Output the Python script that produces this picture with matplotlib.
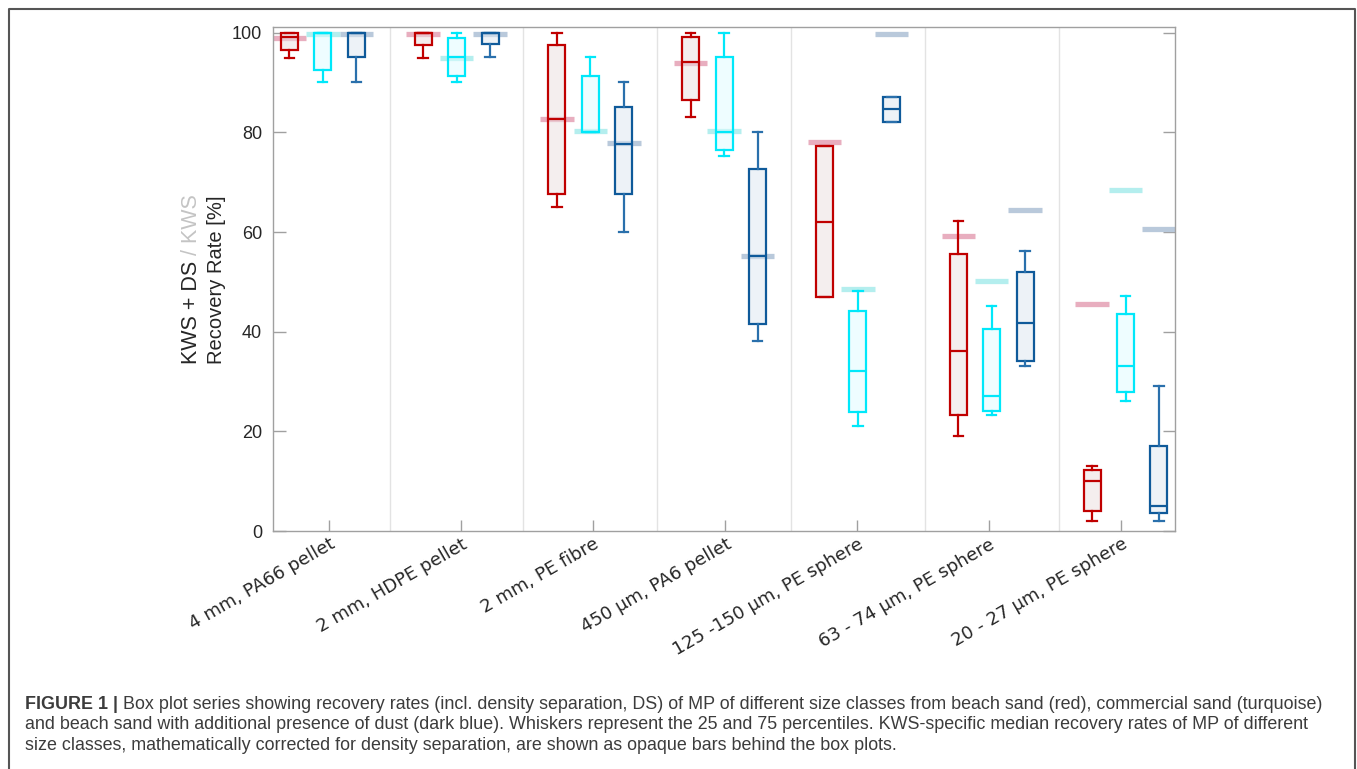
import matplotlib
matplotlib.use('Agg')
import matplotlib.pyplot as plt
from matplotlib.lines import Line2D
import numpy as np

# --- data ---------------------------------------------------------------
categories = ['4 mm, PA66 pellet', '2 mm, HDPE pellet', '2 mm, PE fibre',
              '450 µm, PA6 pellet', '125 -150 µm, PE sphere',
              '63 - 74 µm, PE sphere', '20 - 27 µm, PE sphere']

# beach sand (red)
red_lo  = [95, 95, 65, 83, 47, 19, 2]
red_q1  = [96.5, 97.6, 67.6, 86.6, 47, 23.3, 4]
red_med = [99.2, 100, 82.6, 94.1, 62.1, 36.1, 10.1]
red_q3  = [100, 100, 97.6, 99.2, 77.2, 55.6, 12.2]
red_hi  = [100, 100, 100, 100, 77.2, 62.2, 13.1]
red_kws = [99.0, 99.8, 82.7, 94.0, 78.0, 59.2, 45.6]

# commercial sand (turquoise)
cyan_lo  = [90.2, 90.2, 80.1, 75.2, 21.1, 23.2, 26.1]
cyan_q1  = [92.6, 91.4, 80.1, 76.4, 23.8, 24.1, 27.9]
cyan_med = [100, 95.2, 80.1, 80.1, 32.1, 27.1, 33.1]
cyan_q3  = [100, 99.0, 91.4, 95.2, 44.1, 40.6, 43.6]
cyan_hi  = [100, 100, 95.2, 100, 48.1, 45.1, 47.2]
cyan_kws = [99.8, 95.0, 80.3, 80.3, 48.6, 50.1, 68.4]

# beach sand + dust (dark blue)
blue_lo  = [90.2, 95.2, 60.1, 38.2, 82.1, 33.1, 2.1]
blue_q1  = [95.1, 97.7, 67.7, 41.6, 82.1, 34.1, 3.6]
blue_med = [100, 100, 77.7, 55.2, 84.7, 41.7, 5.0]
blue_q3  = [100, 100, 85.1, 72.7, 87.1, 52.0, 17.1]
blue_hi  = [100, 100, 90.2, 80.1, 87.1, 56.2, 29.1]
blue_kws = [99.8, 99.8, 77.9, 55.2, 99.7, 64.4, 60.6]

W, H = 1357, 769
fig = plt.figure(figsize=(W / 100, H / 100), dpi=100)


def fx(px):
    return px / W


def fy(py):
    return 1 - py / H


ax = fig.add_axes([fx(273.3), fy(531), fx(1175) - fx(273.3), fy(27.3) - fy(531)])

series = [
    (red_lo, red_q1, red_med, red_q3, red_hi, red_kws, -0.25,
     '#C00000', '#C00000', (0.92, 0.874, 0.874), '#E8AEBF'),
    (cyan_lo, cyan_q1, cyan_med, cyan_q3, cyan_hi, cyan_kws, 0.0,
     '#00E8FA', '#00E8FA', (0.874, 0.992, 1.0), '#B4EEEE'),
    (blue_lo, blue_q1, blue_med, blue_q3, blue_hi, blue_kws, 0.25,
     '#0F5A9A', '#2A70AC', (0.866, 0.906, 0.946), '#B9C9DB'),
]

centers = np.arange(1, len(categories) + 1)
box_w = 0.127

for lo, q1, med, q3, hi, kws, off, edge, wcol, fill, barcol in series:
    pos = centers + off
    # KWS medians: opaque bars behind the boxes
    ax.hlines(kws, pos - 0.125, pos + 0.125, colors=barcol, lw=3.8, zorder=2)
    stats = [dict(whislo=a, q1=b, med=c, q3=d, whishi=e, fliers=[])
             for a, b, c, d, e in zip(lo, q1, med, q3, hi)]
    ax.bxp(stats, positions=pos, widths=box_w, capwidths=0.07,
           patch_artist=True, showfliers=False, manage_ticks=False, zorder=3,
           boxprops=dict(facecolor=(*fill, 0.5), edgecolor=edge, linewidth=1.6),
           medianprops=dict(color=edge, linewidth=1.6),
           whiskerprops=dict(color=wcol, linewidth=1.6),
           capprops=dict(color=wcol, linewidth=1.6))

# group separators
for s in centers[:-1] + 0.5:
    ax.axvline(s, color='#E3E3E3', lw=1, zorder=1)

ax.set_xlim(0.63, 7.37)
ax.set_ylim(0, 101.1)

ax.set_yticks([0, 20, 40, 60, 80, 100])
ax.set_yticklabels(['0', '20', '40', '60', '80', '100'],
                   fontfamily='Liberation Sans', fontsize=13, color='#262626')
tick_pos = 0.0625 + 0.9865 * centers
ax.set_xticks(tick_pos)
ax.set_xticklabels(categories, rotation=30, ha='right', va='top',
                   rotation_mode='anchor', fontfamily='DejaVu Sans',
                   fontsize=13, color='#262626')

ax.tick_params(axis='y', direction='in', length=9, width=1, right=True,
               pad=8, color='#A0A0A0')
ax.tick_params(axis='x', direction='in', length=8, width=1, top=False,
               pad=3, color='#A0A0A0')
for sp in ax.spines.values():
    sp.set_color('#A0A0A0')
    sp.set_linewidth(1)

# two-line y label, first line partly grey
lab_kw = dict(rotation=90, rotation_mode='anchor', ha='left', va='center',
              fontfamily='Liberation Sans')
renderer = fig.canvas.get_renderer()
t1 = fig.text(fx(191.7), fy(364), 'KWS + DS', color='#262626', fontsize=15.5,
              **lab_kw)
fig.text(fx(216.7), fy(364), 'Recovery Rate [%]', color='#262626',
         fontsize=14.5, **lab_kw)
bb = t1.get_window_extent(renderer)
fig.text(fx(191.7), bb.y1 / H, ' / KWS', color='#C4C4C4', fontsize=15.5,
         **lab_kw)

# outer frame (left, top, right)
frame = Line2D([fx(8.5), fx(8.5), fx(1355), fx(1355)],
               [fy(780), fy(9), fy(9), fy(780)],
               transform=fig.transFigure, color='#555555', lw=1.5)
fig.add_artist(frame)

# caption
cap_kw = dict(fontfamily='Liberation Sans', fontsize=12.85, color='#3C3C3C',
              ha='left', va='baseline')
c1 = fig.text(fx(25), fy(708.7), 'FIGURE 1 | ', fontweight='bold', **cap_kw)
bb = c1.get_window_extent(renderer)
fig.text(bb.x1 / W, fy(708.7),
         'Box plot series showing recovery rates (incl. density separation, DS) '
         'of MP of different size classes from beach sand (red), commercial sand (turquoise)',
         **cap_kw)
fig.text(fx(25), fy(729.2),
         'and beach sand with additional presence of dust (dark blue). Whiskers represent '
         'the 25 and 75 percentiles. KWS-specific median recovery rates of MP of different',
         **cap_kw)
fig.text(fx(25), fy(749.7),
         'size classes, mathematically corrected for density separation, are shown as '
         'opaque bars behind the box plots.', **cap_kw)

fig.savefig('out.png', dpi=100)
